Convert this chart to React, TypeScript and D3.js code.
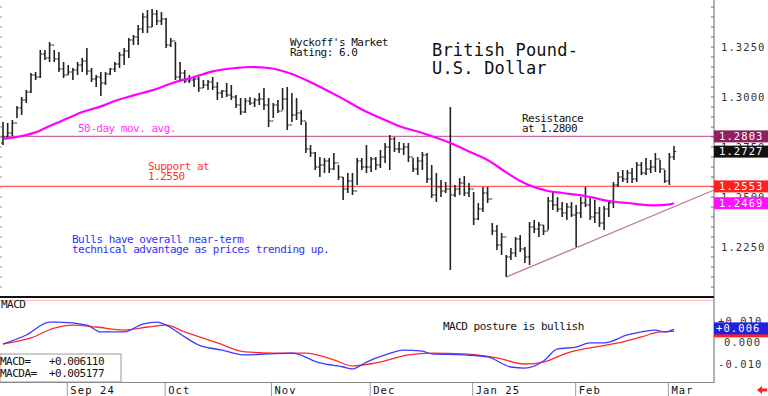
import React from 'react';
import * as d3 from 'd3';

// daily bars, mid Aug 2024 .. 3 Mar 2025
const highs = [
  1.2875, 1.2870, 1.2885, 1.2955, 1.3000, 1.3035, 1.3120, 1.3125, 1.3235, 1.3235,
  1.3275, 1.3235, 1.3225, 1.3175, 1.3160, 1.3145, 1.3175, 1.3195, 1.3245, 1.3145,
  1.3110, 1.3125, 1.3125, 1.3145, 1.3175, 1.3225, 1.3245, 1.3295, 1.3310, 1.3360,
  1.3420, 1.3435, 1.3440, 1.3435, 1.3425, 1.3395, 1.3295, 1.3275, 1.3175, 1.3135,
  1.3110, 1.3100, 1.3100, 1.3085, 1.3085, 1.3100, 1.3075, 1.3035, 1.3070, 1.3060,
  1.3010, 1.2995, 1.2995, 1.3000, 1.2995, 1.3020, 1.3045, 1.2995, 1.2970, 1.2985,
  1.3045, 1.3050, 1.3020, 1.2995, 1.2935, 1.2875, 1.2760, 1.2725, 1.2700, 1.2695,
  1.2695, 1.2720, 1.2660, 1.2600, 1.2620, 1.2620, 1.2695, 1.2695, 1.2760, 1.2700,
  1.2700, 1.2735, 1.2770, 1.2810, 1.2800, 1.2775, 1.2770, 1.2770, 1.2695, 1.2700,
  1.2725, 1.2720, 1.2660, 1.2620, 1.2585, 1.2575, 1.2950, 1.2560, 1.2595, 1.2605,
  1.2570, 1.2525, 1.2470, 1.2550, 1.2550, 1.2370, 1.2360, 1.2320, 1.2210, 1.2245,
  1.2300, 1.2310, 1.2250, 1.2375, 1.2385, 1.2375, 1.2360, 1.2500, 1.2525, 1.2500,
  1.2475, 1.2470, 1.2475, 1.2460, 1.2500, 1.2550, 1.2500, 1.2485, 1.2450, 1.2455,
  1.2485, 1.2575, 1.2625, 1.2635, 1.2635, 1.2645, 1.2675, 1.2675, 1.2695, 1.2685,
  1.2720, 1.2685, 1.2635, 1.2720, 1.2755,
];
const lows = [
  1.2760, 1.2795, 1.2805, 1.2895, 1.2910, 1.2970, 1.3020, 1.3085, 1.3095, 1.3185,
  1.3175, 1.3175, 1.3125, 1.3095, 1.3110, 1.3085, 1.3110, 1.3125, 1.3110, 1.3075,
  1.3050, 1.3005, 1.3060, 1.3110, 1.3125, 1.3145, 1.3160, 1.3195, 1.3260, 1.3260,
  1.3320, 1.3320, 1.3350, 1.3360, 1.3360, 1.3245, 1.3250, 1.3085, 1.3075, 1.3070,
  1.3070, 1.3050, 1.3025, 1.3045, 1.3035, 1.3035, 1.2985, 1.2995, 1.3000, 1.2985,
  1.2945, 1.2910, 1.2920, 1.2960, 1.2950, 1.2960, 1.2935, 1.2850, 1.2895, 1.2920,
  1.2935, 1.2835, 1.2875, 1.2885, 1.2860, 1.2720, 1.2700, 1.2635, 1.2600, 1.2620,
  1.2620, 1.2635, 1.2585, 1.2485, 1.2520, 1.2510, 1.2560, 1.2635, 1.2620, 1.2625,
  1.2635, 1.2645, 1.2670, 1.2635, 1.2725, 1.2720, 1.2710, 1.2675, 1.2625, 1.2610,
  1.2635, 1.2570, 1.2495, 1.2475, 1.2500, 1.2520, 1.2135, 1.2500, 1.2510, 1.2505,
  1.2500, 1.2360, 1.2385, 1.2425, 1.2470, 1.2310, 1.2235, 1.2210, 1.2100, 1.2185,
  1.2200, 1.2225, 1.2170, 1.2160, 1.2320, 1.2300, 1.2310, 1.2335, 1.2435, 1.2425,
  1.2400, 1.2385, 1.2400, 1.2250, 1.2395, 1.2450, 1.2385, 1.2370, 1.2350, 1.2335,
  1.2400, 1.2445, 1.2550, 1.2575, 1.2570, 1.2570, 1.2575, 1.2610, 1.2610, 1.2620,
  1.2625, 1.2620, 1.2570, 1.2560, 1.2685,
];
const closes = [
  1.2800, 1.2820, 1.2870, 1.2945, 1.2985, 1.3025, 1.3110, 1.3100, 1.3215, 1.3195,
  1.3260, 1.3190, 1.3140, 1.3110, 1.3125, 1.3135, 1.3160, 1.3180, 1.3130, 1.3090,
  1.3100, 1.3070, 1.3115, 1.3140, 1.3165, 1.3210, 1.3230, 1.3285, 1.3300, 1.3340,
  1.3400, 1.3350, 1.3415, 1.3380, 1.3390, 1.3260, 1.3280, 1.3100, 1.3120, 1.3080,
  1.3085, 1.3090, 1.3045, 1.3060, 1.3075, 1.3050, 1.3020, 1.3030, 1.3010, 1.3000,
  1.2960, 1.2925, 1.2980, 1.2970, 1.2985, 1.2990, 1.2960, 1.2880, 1.2960, 1.2930,
  1.2990, 1.2860, 1.2910, 1.2920, 1.2880, 1.2740, 1.2720, 1.2650, 1.2660, 1.2680,
  1.2640, 1.2670, 1.2600, 1.2540, 1.2580, 1.2530, 1.2680, 1.2650, 1.2650, 1.2690,
  1.2660, 1.2700, 1.2750, 1.2790, 1.2740, 1.2740, 1.2750, 1.2700, 1.2640, 1.2680,
  1.2710, 1.2590, 1.2510, 1.2550, 1.2530, 1.2540, 1.2510, 1.2540, 1.2570, 1.2520,
  1.2540, 1.2390, 1.2440, 1.2520, 1.2490, 1.2330, 1.2260, 1.2300, 1.2200, 1.2220,
  1.2290, 1.2240, 1.2200, 1.2350, 1.2340, 1.2360, 1.2330, 1.2480, 1.2460, 1.2440,
  1.2420, 1.2450, 1.2410, 1.2420, 1.2470, 1.2460, 1.2400, 1.2420, 1.2370, 1.2440,
  1.2470, 1.2560, 1.2600, 1.2590, 1.2620, 1.2590, 1.2660, 1.2620, 1.2640, 1.2650,
  1.2690, 1.2640, 1.2580, 1.2700, 1.2727,
];
const firstOpen = 1.2770;

// 50-day moving average, read at bar indices
const maIdx = [0, 4, 7, 10, 14, 17, 21, 24, 28, 32, 37, 41, 45, 50, 53, 57, 62, 67, 72, 77, 82, 85, 90, 96, 100, 104, 108, 111, 117, 120, 125, 130, 134, 140, 143, 144];
const maVal = [
  1.2790, 1.2805, 1.2823, 1.2855, 1.2895, 1.2925, 1.2953, 1.2980, 1.3008, 1.3033,
  1.3075, 1.3100, 1.3128, 1.3145, 1.3150, 1.3145, 1.3115, 1.3063, 1.3003, 1.2938,
  1.2885, 1.2855, 1.2820, 1.2770, 1.2728, 1.2685, 1.2623, 1.2580, 1.2530, 1.2520,
  1.2505, 1.2480, 1.2470, 1.2458, 1.2463, 1.2469,
];

// MACD and its average
const macdIdx = [0, 5, 10, 12, 18, 21, 26, 30, 33, 35, 39, 42, 47, 52, 57, 62, 68, 73, 75, 78, 82, 86, 90, 92, 99, 104, 109, 112, 116, 119, 123, 126, 129, 134, 137, 140, 142, 144];
const macdVal = [
  -0.0007, 0.0035, 0.0095, 0.0095, 0.0081, 0.0049, 0.0049, 0.0086, 0.0095, 0.0081,
  0.0026, -0.0012, -0.0035, -0.0058, -0.0053, -0.0049, -0.0095, -0.0114, -0.0123, -0.0091,
  -0.0058, -0.0035, -0.0040, -0.0053, -0.0058, -0.0067, -0.0114, -0.0119, -0.0086, -0.0030,
  -0.0021, -0.0002, -0.0002, 0.0035, 0.0049, 0.0058, 0.0049, 0.0061,
];
const signalIdx = [0, 6, 11, 15, 20, 26, 31, 35, 39, 46, 52, 58, 65, 71, 75, 80, 87, 92, 99, 106, 112, 116, 121, 127, 132, 137, 141, 144];
const signalVal = [
  -0.0007, 0.0021, 0.0067, 0.0081, 0.0072, 0.0058, 0.0072, 0.0081, 0.0049, -0.0002,
  -0.0044, -0.0049, -0.0049, -0.0081, -0.0109, -0.0095, -0.0058, -0.0049, -0.0053, -0.0072,
  -0.0100, -0.0091, -0.0049, -0.0021, -0.0002, 0.0026, 0.0049, 0.0052,
];

const monthLabels = ['Sep 24', 'Oct', 'Nov', 'Dec', 'Jan 25', 'Feb', 'Mar'];
const monthIdx = [13.8, 34.8, 57.6, 78.8, 100.8, 122.9, 142.8];

const priceTicks = [1.325, 1.3, 1.275, 1.25, 1.225];
const macdTicks = [0.01, 0, -0.01];

const resistance = 1.2803;
const support = 1.2553;
const trendIdx = [108, 152.6];
const trendVal = [1.21, 1.2535];

const FONT = 'DejaVu Sans Mono';

export default function App() {
  const N = highs.length;
  const axisX = 714;
  const x = d3.scaleLinear().domain([0, N - 1]).range([3, 674]);
  const y = d3.scaleLinear().domain([1.2, 1.3485]).range([297, 0]);
  const ym = d3.scaleLinear().domain([-0.01, 0.01]).range([364, 321]);

  const opens = closes.map((c, i) => (i === 0 ? firstOpen : closes[i - 1]));

  const maLine = d3
    .line<number>()
    .x((d, i) => x(maIdx[i]))
    .y((d) => y(d))
    .curve(d3.curveMonotoneX);
  const macdLine = d3
    .line<number>()
    .x((d, i) => x(macdIdx[i]))
    .y((d) => ym(d))
    .curve(d3.curveMonotoneX);
  const sigLine = d3
    .line<number>()
    .x((d, i) => x(signalIdx[i]))
    .y((d) => ym(d))
    .curve(d3.curveMonotoneX);

  const minorTicks = d3.range(1.2, 1.35, 0.005);

  const txt = { fontFamily: FONT, fontSize: 11, letterSpacing: -0.5 } as const;
  const axisTxt = { fontFamily: FONT, fontSize: 10.5, letterSpacing: 1.1 } as const;

  const box = (v: number, fill: string, yy: number) => (
    <g key={v + fill}>
      <rect x={axisX} y={yy - 6} width={54} height={12} fill={fill} />
      <text x={719} y={yy} dy="0.36em" fill="#fff" style={axisTxt}>
        {v.toFixed(4)}
      </text>
    </g>
  );

  return (
    <svg
      width={768}
      height={396}
      style={{ position: 'fixed', left: 0, top: 0, background: '#fff' }}
    >
      <rect width={768} height={396} fill="#fff" />
      <defs>
        <clipPath id="main">
          <rect x={0} y={0} width={axisX} height={297} />
        </clipPath>
      </defs>

      {/* horizontal levels */}
      <line x1={0} x2={axisX} y1={y(resistance)} y2={y(resistance)} stroke="#c8689c" strokeWidth={1.2} />
      <line x1={0} x2={axisX} y1={y(support)} y2={y(support)} stroke="#ff5a5a" strokeWidth={1.2} />
      <line
        x1={x(trendIdx[0])}
        y1={y(trendVal[0])}
        x2={x(trendIdx[1])}
        y2={y(trendVal[1])}
        stroke="#c07898"
        strokeWidth={1.3}
      />

      {/* price bars */}
      <g clipPath="url(#main)" stroke="#222" strokeWidth={1.6}>
        {highs.map((h, i) => {
          const cx = x(i);
          return (
            <g key={i}>
              <line x1={cx} x2={cx} y1={y(h)} y2={y(lows[i])} />
              <line x1={cx - 2} x2={cx} y1={y(opens[i])} y2={y(opens[i])} strokeWidth={1} />
              <line x1={cx} x2={cx + 2.2} y1={y(closes[i])} y2={y(closes[i])} strokeWidth={1} />
            </g>
          );
        })}
      </g>

      {/* 50-day MA */}
      <path d={maLine(maVal) || ''} fill="none" stroke="#ff00ff" strokeWidth={2.2} />

      {/* annotations */}
      <text x={290} y={46} fill="#111" style={txt}>Wyckoff's Market</text>
      <text x={290} y={56} fill="#111" style={txt}>Rating: 6.0</text>
      <text x={432} y={56} fill="#111" style={{ fontFamily: FONT, fontSize: 17, letterSpacing: 0.2 }}>British Pound-</text>
      <text x={432} y={74} fill="#111" style={{ fontFamily: FONT, fontSize: 17, letterSpacing: 0.2 }}>U.S. Dollar</text>
      <text x={522} y={122} fill="#111" style={txt}>Resistance</text>
      <text x={522} y={132} fill="#111" style={txt}>at 1.2800</text>
      <text x={78} y={132} fill="#ff33ff" style={txt}>50-day mov. avg.</text>
      <text x={148} y={170} fill="#ff3333" style={txt}>Support at</text>
      <text x={148} y={180} fill="#ff3333" style={txt}>1.2550</text>
      <text x={72} y={243} fill="#3030ff" style={txt}>Bulls have overall near-term</text>
      <text x={72} y={253} fill="#3030ff" style={txt}>technical advantage as prices trending up.</text>

      {/* right price axis */}
      <line x1={axisX} x2={axisX} y1={0} y2={383} stroke="#666" strokeWidth={1} />
      {minorTicks.map((t, i) => (
        <line key={i} x1={axisX - 3} x2={axisX} y1={y(t)} y2={y(t)} stroke="#666" />
      ))}
      {minorTicks.map((t, i) => (
        <line key={'l' + i} x1={0} x2={2} y1={y(t)} y2={y(t)} stroke="#999" />
      ))}
      {priceTicks.map((t) => (
        <text key={t} x={721} y={y(t)} dy="0.36em" fill="#333" style={axisTxt}>
          {t.toFixed(4)}
        </text>
      ))}
      {box(resistance, '#8e2060', y(resistance))}
      {box(closes[N - 1], '#111', y(closes[N - 1]))}
      {box(support, '#ff2020', y(support))}
      {box(maVal[maVal.length - 1], '#ff10ff', y(maVal[maVal.length - 1]))}

      {/* separator */}
      <line x1={0} x2={axisX} y1={297} y2={297} stroke="#111" strokeWidth={2} />
      <line x1={0} x2={axisX} y1={300.5} y2={300.5} stroke="#ffb8b8" strokeWidth={1} />

      {/* MACD panel */}
      <text x={1} y={308} fill="#111" style={txt}>MACD</text>
      <text x={443} y={330} fill="#111" style={txt}>MACD posture is bullish</text>
      <path d={sigLine(signalVal) || ''} fill="none" stroke="#ff2a2a" strokeWidth={1.3} />
      <path d={macdLine(macdVal) || ''} fill="none" stroke="#3b3bff" strokeWidth={1.3} />
      {macdTicks.map((t) => (
        <text key={t} x={t === 0 ? 724 : 718} y={ym(t)} dy="0.36em" fill="#333" style={axisTxt}>
          {t === 0 ? '0.000' : (t > 0 ? '+' : '') + t.toFixed(3)}
        </text>
      ))}
      <rect x={axisX} y={ym(signalVal[signalVal.length - 1]) - 6} width={54} height={12} fill="#ff2020" />
      <rect x={axisX} y={ym(macdVal[macdVal.length - 1]) - 7} width={54} height={12} fill="#2020e0" />
      <text x={716} y={ym(macdVal[macdVal.length - 1]) - 1} dy="0.36em" fill="#fff" style={axisTxt}>
        +0.006
      </text>

      <rect x={0} y={354} width={121} height={28} fill="#fff" stroke="#999" />
      <text x={0} y={365} fill="#111" style={txt}>MACD=</text>
      <text x={49} y={365} fill="#111" style={txt}>+0.006110</text>
      <text x={0} y={377} fill="#111" style={txt}>MACDA=</text>
      <text x={49} y={377} fill="#111" style={txt}>+0.005177</text>

      {/* bottom axis */}
      <line x1={0} x2={axisX} y1={382.5} y2={382.5} stroke="#888" />
      {monthIdx.map((m, i) => (
        <g key={m}>
          <line x1={x(m)} x2={x(m)} y1={383} y2={396} stroke="#999" />
          <text x={x(m) + 3} y={394} fill="#111" style={axisTxt}>
            {monthLabels[i]}
          </text>
        </g>
      ))}
      <path d="M 757 390 L 762 386 L 762 388.5 L 767 388.5 L 767 391.5 L 762 391.5 L 762 394 Z" fill="#ff2020" />
    </svg>
  );
}
